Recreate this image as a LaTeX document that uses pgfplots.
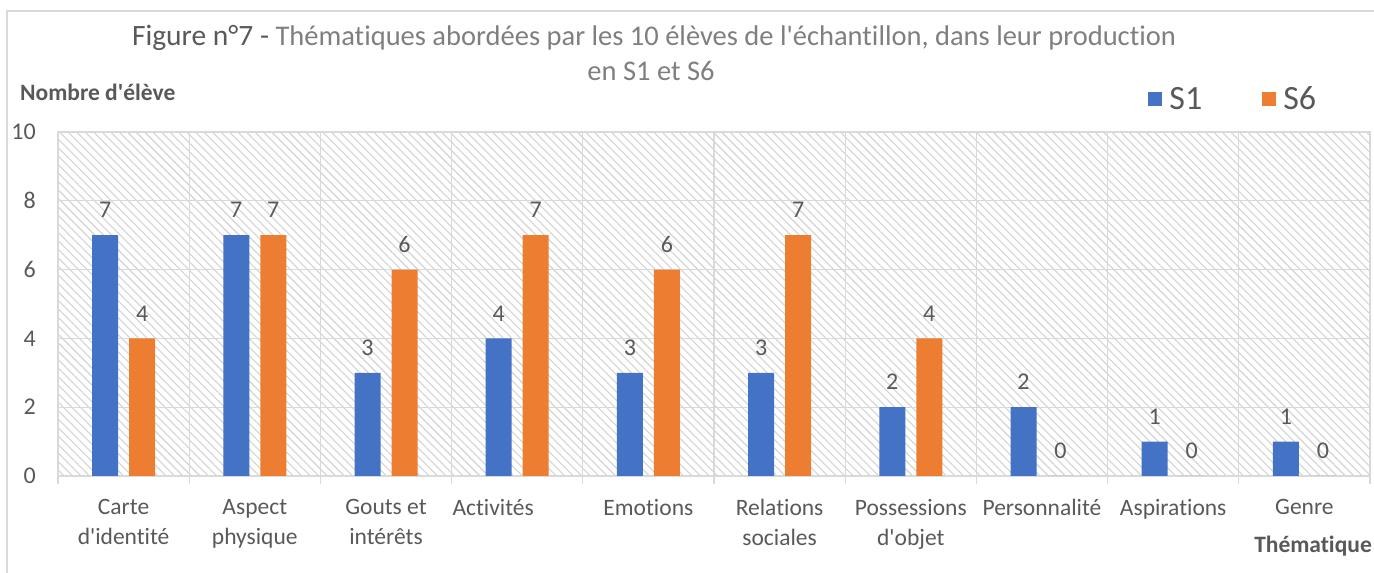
\documentclass[border=0pt]{standalone}
\usepackage{pgfplots}
\pgfplotsset{compat=1.18}
\usepackage{fontspec}
\setmainfont{Carlito}[Ligatures=NoCommon]
\usetikzlibrary{patterns.meta}
\definecolor{cblue}{HTML}{4472C4}
\definecolor{corange}{HTML}{ED7D31}
\definecolor{txt}{HTML}{595959}
\definecolor{ttl}{HTML}{7F7F7F}
\definecolor{gridc}{HTML}{D9D9D9}
\definecolor{hatch}{HTML}{D3D3D3}
\newcommand{\ap}{\textquotesingle}
\begin{document}
\begin{tikzpicture}[x=1pt,y=1pt]
\useasboundingbox (0,0) rectangle (1374,573);
\draw[gridc, line width=1.5pt] (7,-2) -- (7,562) -- (1376,562);
\node[anchor=base, text=ttl, font=\fontsize{28.5}{35}\selectfont, inner sep=0] at (654,527)
  {{\color{txt}\fontsize{29.5}{35}\selectfont Figure n°7 -} Thématiques abordées par les 10 élèves de l\ap{}échantillon, dans leur production};
\node[anchor=base, text=ttl, font=\fontsize{28.5}{35}\selectfont, inner sep=0] at (651,492) {en S1 et S6};
\node[anchor=base west, text=txt, font=\bfseries\fontsize{23.5}{24}\selectfont, inner sep=0] at (20,472) {Nombre d\ap{}élève};
\node[anchor=base east, text=txt, font=\bfseries\fontsize{23.5}{24}\selectfont, inner sep=0] at (1372,20) {Thématique};
\begin{axis}[
  at={(58pt,97pt)}, anchor=south west,
  scale only axis, width=1312pt, height=344pt,
  xmin=0.5, xmax=10.5, ymin=0, ymax=10,
  ytick={0,2,...,10},
  xtick={1,...,10},
  xticklabels={{Carte\\d\ap{}identité},{Aspect\\physique},{Gouts et\\intérêts},{Activités\hspace*{48pt}},Emotions,{Relations\\sociales},{Possessions\\d\ap{}objet},Personnalité,Aspirations,Genre},
  minor xtick={0.5,1.5,...,10.5},
  xtick pos=lower, ytick pos=left,
  tick align=outside,
  major tick length=0pt, minor tick length=8pt,
  minor x tick style={gridc, line width=1.3pt},
  ymajorgrids, xminorgrids,
  major grid style={gridc, line width=1.3pt},
  minor grid style={gridc, line width=1.3pt},
  axis line style={gridc, line width=1.3pt},
  axis background/.style={pattern={Lines[angle=-45,distance=6pt,line width=1.1pt]}, pattern color=hatch},
  /pgf/number format/assume math mode=true,
  yticklabel style={font=\fontsize{24}{24}\selectfont, text=txt, inner sep=0pt, anchor=east, xshift=-22pt},
  xticklabel style={font=\fontsize{23.5}{30}\selectfont, text=txt, align=center, inner sep=0pt, anchor=north, yshift=-23pt},
  ybar, bar width=26pt,
  nodes near coords,
  every node near coord/.append style={font=\fontsize{24}{24}\selectfont, text=txt, inner sep=0pt, anchor=south, yshift=17pt},
  legend columns=2,
  legend style={draw=none, fill=none, at={(0.831,1.096)}, anchor=west, font=\fontsize{34}{34}\selectfont, text=txt, inner sep=0pt,
    /tikz/every odd column/.append style={column sep=5pt},
    /tikz/every even column/.append style={column sep=58pt}},
  legend image code/.code={\fill[#1] (0pt,-7pt) rectangle (14pt,7pt);},
]
\addplot[fill=cblue, draw=none, bar shift=-18.5pt] coordinates {(1,7) (2,7) (3,3) (4,4) (5,3) (6,3) (7,2) (8,2) (9,1) (10,1)};
\addplot[fill=corange, draw=none, bar shift=18.5pt] coordinates {(1,4) (2,7) (3,6) (4,7) (5,6) (6,7) (7,4) (8,0) (9,0) (10,0)};
\legend{S1,S6}
\end{axis}
\end{tikzpicture}
\end{document}
